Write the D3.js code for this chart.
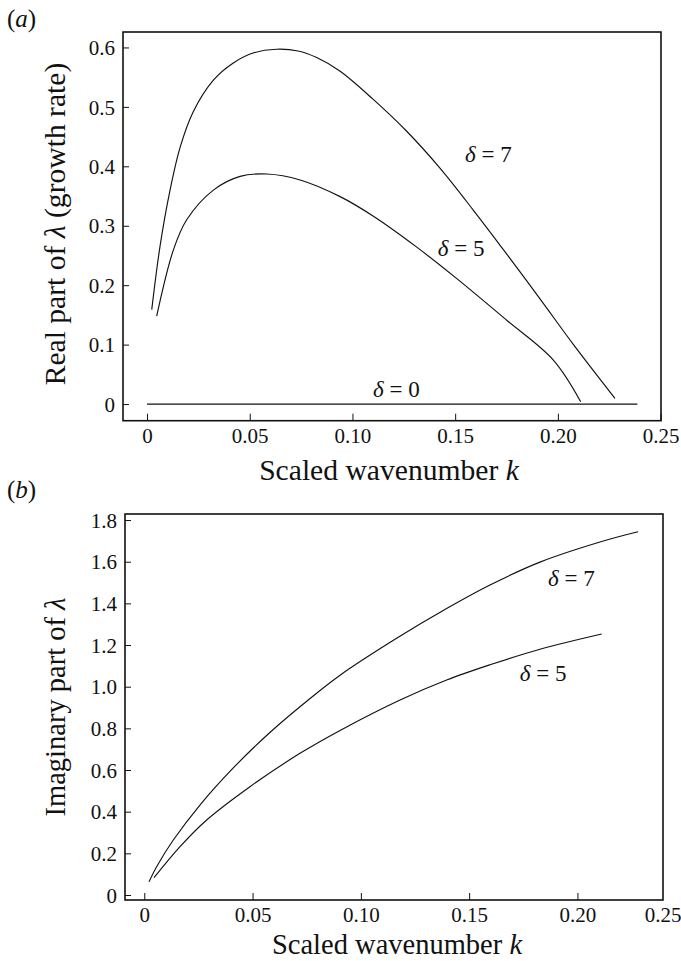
<!DOCTYPE html>
<html>
<head>
<meta charset="utf-8">
<script src="https://cdn.jsdelivr.net/npm/d3@7"></script>
<style>
  html, body { margin: 0; padding: 0; background: #fff; }
  svg { display: block; }
  text { font-family: "Liberation Serif", "Times New Roman", "Nimbus Roman", "DejaVu Serif", serif; fill: #111; }
</style>
</head>
<body>
<svg id="chart" width="681" height="961"></svg>
<script>
// Growth rate (real part) and frequency (imaginary part) of λ versus scaled wavenumber k

// Panel (a): real part of λ
const realD7k = [0.0023, 0.0063, 0.0112, 0.0161, 0.0225, 0.0323, 0.042, 0.052, 0.0631, 0.0735, 0.0826, 0.094, 0.110, 0.1264, 0.1426, 0.1589, 0.1743, 0.1913, 0.2076, 0.2278];
const realD7v = [0.159, 0.265, 0.360, 0.432, 0.492, 0.545, 0.574, 0.591, 0.597, 0.594, 0.583, 0.560, 0.513, 0.459, 0.397, 0.326, 0.256, 0.177, 0.100, 0.0095];
const realD5k = [0.0047, 0.0128, 0.0193, 0.0323, 0.0453, 0.0583, 0.0745, 0.094, 0.1102, 0.1313, 0.1508, 0.1751, 0.1978, 0.2111];
const realD5v = [0.148, 0.259, 0.310, 0.360, 0.383, 0.387, 0.377, 0.349, 0.316, 0.264, 0.211, 0.141, 0.074, 0.004];
const realD0k = [0, 0.2387];
const realD0v = [0, 0];

// Panel (b): imaginary part of λ
const imagD7k = [0.0022, 0.0057, 0.0134, 0.0257, 0.0411, 0.058, 0.075, 0.0904, 0.1165, 0.1396, 0.1596, 0.1827, 0.2135, 0.228];
const imagD7v = [0.064, 0.136, 0.264, 0.432, 0.610, 0.780, 0.930, 1.055, 1.232, 1.375, 1.488, 1.598, 1.704, 1.744];
const imagD5k = [0.0045, 0.0165, 0.0288, 0.0488, 0.0719, 0.0904, 0.1181, 0.1396, 0.1596, 0.1827, 0.2112];
const imagD5v = [0.083, 0.232, 0.360, 0.520, 0.680, 0.790, 0.936, 1.032, 1.105, 1.180, 1.253];

// Axis extents and ticks
const kDomainA = [-0.0117, 0.2502];
const realDomain = [-0.028, 0.626];
const kTicksA = [0, 0.05, 0.10, 0.15, 0.20, 0.25];
const kTickLabelsA = ["0", "0.05", "0.10", "0.15", "0.20", "0.25"];
const realTicks = [0, 0.1, 0.2, 0.3, 0.4, 0.5, 0.6];
const realTickLabels = ["0", "0.1", "0.2", "0.3", "0.4", "0.5", "0.6"];

const kDomainB = [-0.0089, 0.2395];
const imagDomain = [-0.024, 1.829];
const kTicksB = [0, 0.05, 0.10, 0.15, 0.20];
const kTickLabelsB = ["0", "0.05", "0.10", "0.15", "0.20"];
const kEndLabelB = "0.25";
const imagTicks = [0, 0.2, 0.4, 0.6, 0.8, 1.0, 1.2, 1.4, 1.6, 1.8];
const imagTickLabels = ["0", "0.2", "0.4", "0.6", "0.8", "1.0", "1.2", "1.4", "1.6", "1.8"];

// Curve label anchors [k, value]
const labelsA = [
  { d: "7", k: 0.1548, v: 0.407 },
  { d: "5", k: 0.1415, v: 0.249 },
  { d: "0", k: 0.110, v: 0.012 }
];
const labelsB = [
  { d: "7", k: 0.1864, v: 1.483 },
  { d: "5", k: 0.1734, v: 1.027 }
];

const svg = d3.select("#chart");

function zip(ks, vs) { return ks.map((k, i) => [k, vs[i]]); }

function drawPanel(cfg) {
  const { frame, xDomain, yDomain } = cfg;
  const x = d3.scaleLinear().domain(xDomain).range([frame.left, frame.right]);
  const y = d3.scaleLinear().domain(yDomain).range([frame.bottom, frame.top]);
  const g = svg.append("g");

  // curves
  const line = d3.line().x(d => x(d[0])).y(d => y(d[1])).curve(d3.curveCatmullRom.alpha(0.5));
  cfg.series.forEach(s => {
    g.append("path")
      .attr("d", line(s))
      .attr("fill", "none")
      .attr("stroke", "#111")
      .attr("stroke-width", 1.15);
  });

  // left axis: inward ticks
  const yAxis = d3.axisLeft(y).tickValues(cfg.yTicks).tickSize(-6).tickPadding(14)
    .tickFormat((d, i) => cfg.yTickLabels[i]);
  const ya = g.append("g").attr("transform", `translate(${frame.left},0)`).call(yAxis);
  ya.attr("font-family", null);
  ya.select(".domain").remove();
  ya.selectAll(".tick line").attr("stroke", "#111").attr("stroke-width", 1);
  ya.selectAll(".tick text").attr("font-size", 21).attr("fill", "#111")
    .attr("x", -8).attr("dy", "0.34em");

  // bottom axis: inward ticks
  const xAxis = d3.axisBottom(x).tickValues(cfg.xTicks).tickSize(-7).tickPadding(0)
    .tickFormat((d, i) => cfg.xTickLabels[i]);
  const xa = g.append("g").attr("transform", `translate(0,${frame.bottom})`).call(xAxis);
  xa.attr("font-family", null);
  xa.select(".domain").remove();
  xa.selectAll(".tick line").attr("stroke", "#111").attr("stroke-width", 1);
  xa.selectAll(".tick text").attr("font-size", 21).attr("fill", "#111")
    .attr("y", 22).attr("dy", 0);
  if (cfg.xEndLabel) {
    g.append("text")
      .attr("x", x.range()[1]).attr("y", frame.bottom + 22)
      .attr("text-anchor", "middle").attr("font-size", 21)
      .text(cfg.xEndLabel);
  }

  // frame
  g.append("rect")
    .attr("x", frame.left).attr("y", frame.top)
    .attr("width", frame.right - frame.left).attr("height", frame.bottom - frame.top)
    .attr("fill", "none").attr("stroke", "#111").attr("stroke-width", 1.6);

  // curve labels
  cfg.labels.forEach(l => {
    const t = g.append("text")
      .attr("x", x(l.k)).attr("y", y(l.v))
      .attr("font-size", 23);
    t.append("tspan").attr("font-style", "italic").text("δ");
    t.append("tspan").text(" = " + l.d);
  });

  // axis titles
  const xt = g.append("text")
    .attr("x", cfg.xTitleX)
    .attr("y", frame.bottom + cfg.xTitleOffset)
    .attr("text-anchor", "middle")
    .attr("font-size", cfg.titleSize);
  xt.append("tspan").text("Scaled wavenumber ");
  xt.append("tspan").attr("font-style", "italic").text("k");

  const yt = g.append("text")
    .attr("transform", `translate(${cfg.yTitleX},${cfg.yTitleY}) rotate(-90)`)
    .attr("text-anchor", "middle")
    .attr("font-size", cfg.titleSize);
  cfg.yTitle.forEach(p => {
    const ts = yt.append("tspan").text(p.t);
    if (p.i) ts.attr("font-style", "italic");
  });

  // panel tag
  const tag = svg.append("text")
    .attr("x", cfg.tag.x).attr("y", cfg.tag.y)
    .attr("font-size", 25);
  tag.append("tspan").text("(");
  tag.append("tspan").attr("font-style", "italic").text(cfg.tag.letter);
  tag.append("tspan").text(")");
}

drawPanel({
  frame: { left: 123, right: 661, top: 32, bottom: 420.7 },
  xDomain: kDomainA, yDomain: realDomain,
  series: [zip(realD7k, realD7v), zip(realD5k, realD5v), zip(realD0k, realD0v)],
  xTicks: kTicksA, xTickLabels: kTickLabelsA,
  yTicks: realTicks, yTickLabels: realTickLabels,
  labels: labelsA,
  titleSize: 29.6,
  xTitleX: 389, xTitleOffset: 59,
  yTitleX: 65, yTitleY: 224,
  yTitle: [{ t: "Real part of " }, { t: "λ", i: true }, { t: " (growth rate)" }],
  tag: { x: 7, y: 27, letter: "a" }
});

drawPanel({
  frame: { left: 125, right: 663, top: 514, bottom: 900 },
  xDomain: kDomainB, yDomain: imagDomain,
  series: [zip(imagD7k, imagD7v), zip(imagD5k, imagD5v)],
  xTicks: kTicksB, xTickLabels: kTickLabelsB, xEndLabel: kEndLabelB,
  yTicks: imagTicks, yTickLabels: imagTickLabels,
  labels: labelsB,
  titleSize: 28.5,
  xTitleX: 397, xTitleOffset: 54,
  yTitleX: 65, yTitleY: 707,
  yTitle: [{ t: "Imaginary part of " }, { t: "λ", i: true }],
  tag: { x: 7, y: 498, letter: "b" }
});
</script>
</body>
</html>
